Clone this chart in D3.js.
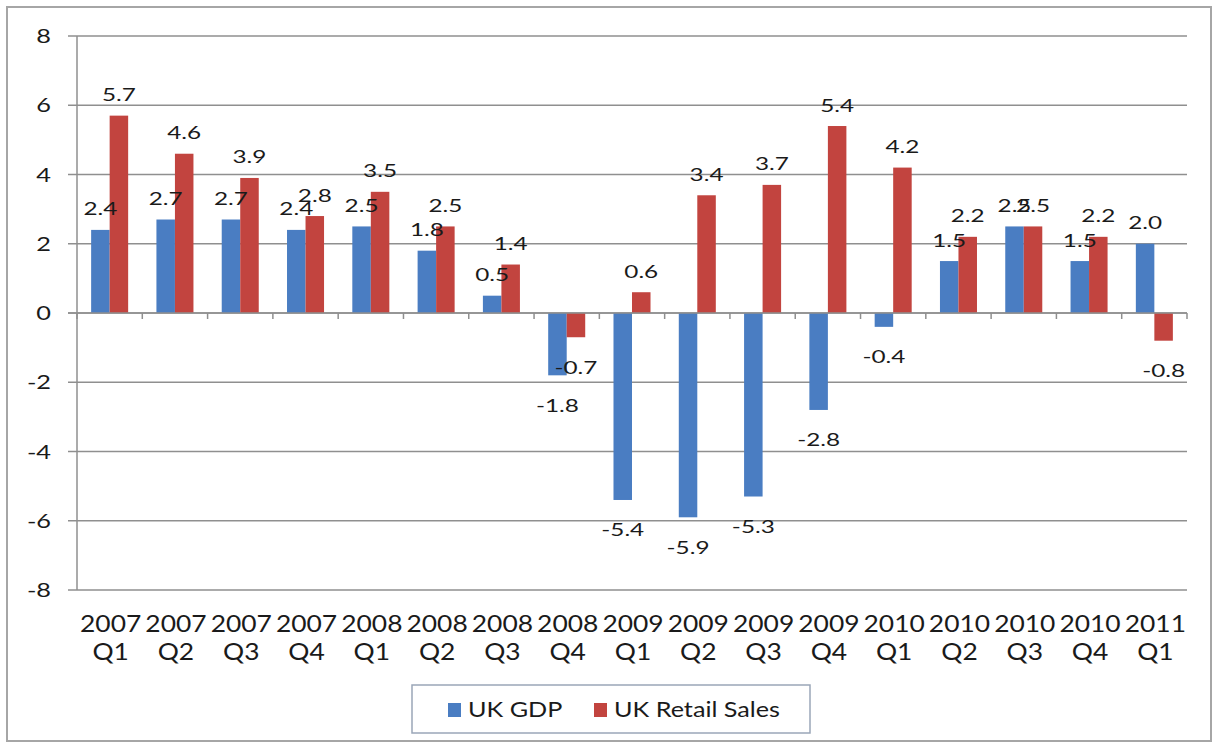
<!DOCTYPE html>
<html>
<head>
<meta charset="utf-8">
<script src="https://cdn.jsdelivr.net/npm/d3@7"></script>
<style>
  html, body { margin: 0; padding: 0; background: #fff; }
  svg { display: block; }
  text { font-family: Lato, "Open Sans", sans-serif; fill: #1a1a1a; }
</style>
</head>
<body>
<svg id="chart" width="1217" height="745"></svg>
<script>
// Quarterly year-on-year growth, %
const quarters = ["2007 Q1","2007 Q2","2007 Q3","2007 Q4","2008 Q1","2008 Q2","2008 Q3","2008 Q4",
                  "2009 Q1","2009 Q2","2009 Q3","2009 Q4","2010 Q1","2010 Q2","2010 Q3","2010 Q4","2011 Q1"];
const gdp    = [2.4, 2.7, 2.7, 2.4, 2.5, 1.8, 0.5, -1.8, -5.4, -5.9, -5.3, -2.8, -0.4, 1.5, 2.5, 1.5, 2.0];
const retail = [5.7, 4.6, 3.9, 2.8, 3.5, 2.5, 1.4, -0.7, 0.6, 3.4, 3.7, 5.4, 4.2, 2.2, 2.5, 2.2, -0.8];
const seriesNames = ["UK GDP", "UK Retail Sales"];
const seriesColors = ["#4A7DC2", "#C2443F"];
const yTicks = [-8, -6, -4, -2, 0, 2, 4, 6, 8];

const svg = d3.select("#chart");
const plot = { left: 77, right: 1187, top: 36, bottom: 590 };

// Horizontally widened text, as the chart's lettering is drawn broad
function wideText(g, x, y, str, size, sx, anchor) {
  return g.append("text")
    .attr("transform", `translate(${x},${y}) scale(${sx},1)`)
    .attr("text-anchor", anchor || "middle")
    .style("font-size", size + "px")
    .text(str);
}

// Outer frame
svg.append("rect")
  .attr("x", 7).attr("y", 7).attr("width", 1204).attr("height", 734)
  .attr("fill", "#fff").attr("stroke", "#a6a6a6").attr("stroke-width", 2);

const x = d3.scaleBand().domain(quarters).range([plot.left, plot.right])
  .paddingInner(0.433).paddingOuter(0.2165);
const xSeries = d3.scaleBand().domain(seriesNames).range([0, x.bandwidth()]);
const y = d3.scaleLinear().domain([-8, 8]).range([plot.bottom, plot.top]);

// Gridlines with small left tick marks
const grid = svg.append("g");
grid.selectAll("line").data(yTicks).join("line")
  .attr("x1", plot.left - 9).attr("x2", plot.right)
  .attr("y1", d => y(d)).attr("y2", d => y(d))
  .attr("stroke", "#8f8f8f").attr("stroke-width", 1.5);

// Vertical axis line
svg.append("line")
  .attr("x1", plot.left).attr("x2", plot.left)
  .attr("y1", y(8)).attr("y2", y(-8))
  .attr("stroke", "#8f8f8f").attr("stroke-width", 1.5);

// Y tick labels
const yLab = svg.append("g");
yTicks.forEach(t => wideText(yLab, 51, y(t) + 7, String(t), 19.5, 1.3, "end"));

// Bars
const rows = quarters.map((q, i) => ({ q, vals: [gdp[i], retail[i]] }));
const groups = svg.append("g").selectAll("g").data(rows).join("g")
  .attr("transform", d => `translate(${x(d.q)},0)`);
groups.selectAll("rect")
  .data(d => d.vals.map((v, k) => ({ v, k })))
  .join("rect")
  .attr("x", d => xSeries(seriesNames[d.k]))
  .attr("width", xSeries.bandwidth())
  .attr("y", d => y(Math.max(0, d.v)))
  .attr("height", d => Math.abs(y(d.v) - y(0)))
  .attr("fill", d => seriesColors[d.k]);

// Zero axis line with category tick marks
svg.append("line")
  .attr("x1", plot.left - 9).attr("x2", plot.right)
  .attr("y1", y(0)).attr("y2", y(0))
  .attr("stroke", "#8f8f8f").attr("stroke-width", 1.5);
const step = x.step();
const bounds = d3.range(quarters.length + 1).map(i => plot.left + i * step);
svg.append("g").selectAll("line").data(bounds).join("line")
  .attr("x1", d => d).attr("x2", d => d)
  .attr("y1", y(0)).attr("y2", y(0) + 6)
  .attr("stroke", "#8f8f8f").attr("stroke-width", 1.5);

// Data labels
const labels = svg.append("g");
rows.forEach(r => {
  r.vals.forEach((v, k) => {
    const cx = x(r.q) + xSeries(seriesNames[k]) + xSeries.bandwidth() / 2;
    const ly = v >= 0 ? y(v) - 14.5 : y(v) + 36.5;
    wideText(labels, cx, ly, v.toFixed(1), 18, 1.35);
  });
});

// Category labels (year over quarter)
const xLab = svg.append("g");
quarters.forEach(q => {
  const [yr, qt] = q.split(" ");
  const cx = x(q) + x.bandwidth() / 2 + 1;
  wideText(xLab, cx, 632, yr, 24, 1.1);
  wideText(xLab, cx, 660, qt, 24, 1.1);
});

// Legend
const leg = svg.append("g");
leg.append("rect")
  .attr("x", 412).attr("y", 685).attr("width", 398).attr("height", 48)
  .attr("fill", "#fff").attr("stroke", "#9aa6b8").attr("stroke-width", 1.5);
const legX = [448, 594];
seriesNames.forEach((name, k) => {
  leg.append("rect")
    .attr("x", legX[k]).attr("y", 703).attr("width", 13).attr("height", 14)
    .attr("fill", seriesColors[k]);
  wideText(leg, legX[k] + 20, 717, name, 21, 1.2, "start");
});
</script>
</body>
</html>
